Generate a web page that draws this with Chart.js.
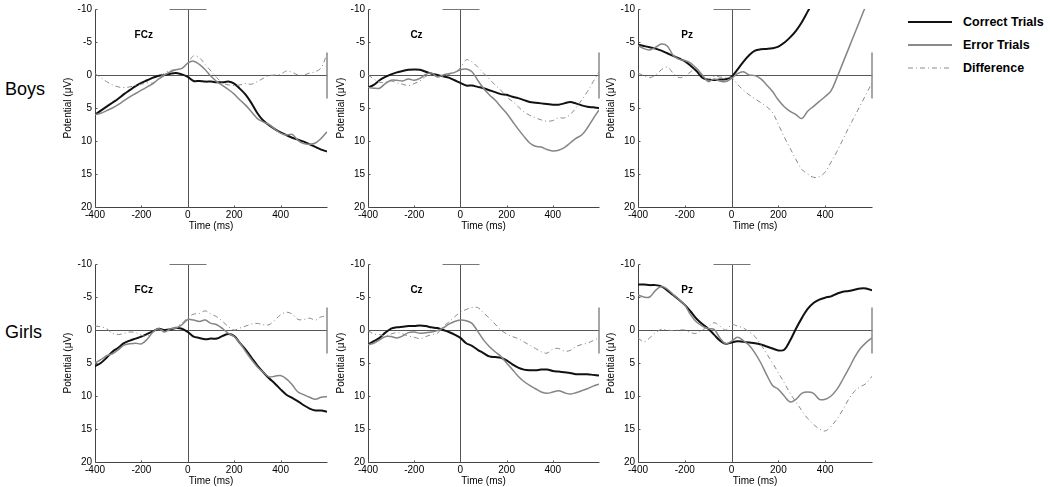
<!DOCTYPE html>
<html>
<head>
<meta charset="utf-8">
<script src="https://cdn.jsdelivr.net/npm/chart.js@4.4.1/dist/chart.umd.min.js"></script>
<style>
  body { margin: 0; background: #fff; width: 1050px; height: 487px; overflow: hidden; position: relative; font-family: "Liberation Sans", Arial, sans-serif; }
  canvas { position: absolute; }
  .row-label { position: absolute; font-size: 18px; color: #000; }
  .legend { position: absolute; left: 905px; top: 10px; }
  .legend div { height: 23px; display: flex; align-items: center; font-weight: bold; font-size: 12.5px; }
  .legend svg { margin-right: 10px; }
</style>
</head>
<body>
<div class="row-label" style="left:5px; top:79px;">Boys</div>
<div class="row-label" style="left:5px; top:322px;">Girls</div>
<div class="legend">
  <div><svg width="48" height="4"><line x1="3" y1="2" x2="47" y2="2" stroke="#111" stroke-width="2"/></svg>Correct Trials</div>
  <div><svg width="48" height="4"><line x1="3" y1="2" x2="47" y2="2" stroke="#8a8a8a" stroke-width="2"/></svg>Error Trials</div>
  <div><svg width="48" height="4"><line x1="3" y1="2" x2="47" y2="2" stroke="#8a8a8a" stroke-width="1" stroke-dasharray="5,3,1,3"/></svg>Difference</div>
</div>

<script>
// sample times (ms)
const times = [-400, -375, -350, -325, -300, -275, -250, -225, -200, -175, -150, -125, -100, -75, -50, -25,
  0, 25, 50, 75, 100, 125, 150, 175, 200, 225, 250, 275, 300, 325, 350, 375, 400, 425, 450, 475, 500, 525, 550, 575, 600];

const xTicks = [-400, -200, 0, 200, 400];
const yTicks = [-10, -5, 0, 5, 10, 15, 20];
const refBar = [-80, 80];      // short bar at top of time zero
const calibBar = [-3.5, 3.5];  // calibration segment at right edge

// Boys
const boysFCzCorrect = [6.0, 5.4, 4.8, 4.2, 3.6, 2.9, 2.3, 1.7, 1.2, 0.8, 0.4, 0.1, 0.0, -0.2, -0.3, -0.1,
  0.3, 0.9, 0.9, 1.0, 1.0, 1.1, 1.1, 1.0, 1.3, 2.1, 3.0, 4.3, 5.8, 6.9, 7.6, 8.2, 8.7, 9.1, 9.5, 9.8, 10.1, 10.5, 10.9, 11.3, 11.6];
const boysFCzError = [6.0, 5.8, 5.4, 5.0, 4.5, 3.9, 3.3, 2.8, 2.3, 1.8, 1.3, 0.6, 0.0, -0.5, -0.8, -1.0,
  -1.8, -2.1, -1.6, -0.8, 0.2, 1.0, 1.6, 2.2, 2.9, 3.8, 4.6, 5.6, 6.6, 7.1, 7.5, 8.2, 8.8, 9.1, 9.0, 9.9, 10.4, 10.5, 10.3, 9.6, 8.6];
const boysFCzDiff = [-0.2, 0.4, 1.0, 1.5, 1.8, 1.9, 1.8, 1.6, 1.4, 1.2, 1.2, 0.5, -0.3, -0.7, -0.8, -1.0,
  -1.8, -2.9, -2.6, -1.6, -0.6, 0.4, 1.2, 1.5, 1.6, 1.5, 1.3, 1.4, 1.0, 0.5, 0.1, 0.0, -0.1, -0.6, -0.4, 0.0, 0.0, -0.3, -0.5, -1.1, -3.2];

const boysCzCorrect = [1.9, 1.5, 0.8, 0.3, -0.1, -0.4, -0.6, -0.8, -0.85, -0.8, -0.5, -0.2, 0.0, 0.2, 0.4, 0.8,
  1.2, 1.6, 1.6, 1.8, 2.0, 2.3, 2.6, 2.9, 3.0, 3.3, 3.5, 3.8, 4.1, 4.2, 4.3, 4.4, 4.5, 4.5, 4.3, 4.1, 4.3, 4.6, 4.8, 4.9, 5.0];
const boysCzError = [1.9, 2.0, 2.0, 1.3, 0.8, 0.8, 0.9, 0.6, 0.8, 0.5, -0.1, -0.3, 0.3, 0.0, -0.2, -0.4,
  -0.8, -0.9, -0.5, 0.8, 2.0, 3.0, 3.8, 4.8, 5.8, 7.0, 8.2, 9.3, 10.3, 10.8, 10.9, 11.3, 11.5, 11.4, 11.0, 10.3, 9.6, 9.1, 8.0, 6.6, 5.3];
const boysCzDiff = [0.0, 0.6, 1.1, 1.1, 0.9, 1.2, 1.4, 1.6, 1.3, 0.9, 0.2, 0.0, 0.2, 0.2, -0.1, -0.4,
  -1.1, -2.3, -2.0, -1.2, -0.3, 0.6, 1.5, 2.3, 3.3, 4.0, 4.8, 5.6, 6.1, 6.5, 6.8, 7.0, 6.9, 6.5, 6.5, 6.0, 5.0, 3.8, 2.5, 1.0, -0.5];

const boysPzCorrect = [-4.6, -4.4, -4.2, -4.0, -3.7, -3.3, -2.9, -2.5, -2.1, -1.4, -0.6, 0.4, 0.7, 0.75, 0.7, 0.65,
  0.25, -0.8, -2.0, -3.0, -3.7, -3.9, -3.95, -4.05, -4.3, -4.9, -5.7, -6.7, -8.0, -9.6, -11.2, null, null, null, null, null, null, null, null, null, null];
const boysPzError = [-4.5, -4.0, -3.8, -4.2, -4.7, -4.4, -3.0, -2.4, -2.2, -1.8, -1.0, 0.0, 1.0, 0.6, 0.9, 1.0,
  0.5, -0.2, -0.5, 0.0, 0.1, 0.6, 1.5, 2.5, 3.8, 4.8, 5.5, 6.0, 6.6, 5.5, 4.75, 4.0, 3.25, 2.4, 0.4, -1.8, -4.0, -6.2, -8.4, -10.6, -12.5];
const boysPzDiff = [-0.3, 0.1, 0.4, 0.0, -0.8, -1.2, -0.3, 0.4, 0.2, -0.5, -1.0, 0.2, 0.6, 0.2, 0.3, 0.4,
  0.4, 1.4, 2.3, 3.0, 3.6, 4.2, 4.8, 5.7, 7.5, 9.4, 11.1, 12.8, 14.3, 15.0, 15.5, 15.4, 14.7, 13.2, 11.6, 9.8, 8.0, 6.3, 4.6, 2.9, 1.2];

// Girls
const girlsFCzCorrect = [5.5, 5.0, 4.2, 3.3, 2.7, 2.0, 1.6, 1.3, 1.0, 0.6, 0.2, -0.2, 0.0, -0.1, -0.3, -0.2,
  0.3, 1.0, 1.2, 1.4, 1.3, 1.3, 0.9, 0.6, 0.9, 2.0, 3.0, 4.2, 5.4, 6.4, 7.3, 8.1, 9.0, 9.8, 10.3, 10.8, 11.4, 11.9, 12.2, 12.2, 12.4];
const girlsFCzError = [5.0, 4.5, 3.9, 3.6, 3.0, 2.3, 2.1, 2.0, 2.1, 1.4, 0.3, -0.2, 0.3, -0.2, -0.3, -0.8,
  -1.6, -1.5, -1.3, -1.5, -1.0, -0.8, -0.2, 0.5, 1.0, 2.0, 3.3, 4.5, 5.6, 6.4, 7.1, 7.0, 6.9, 7.4, 8.3, 9.4, 9.8, 10.2, 10.5, 10.2, 10.1];
const girlsFCzDiff = [-0.6, -0.5, -0.2, 0.5, 0.7, 0.5, 0.3, 0.4, 0.8, 0.9, 0.3, -0.3, 0.2, 0.0, -0.5, -1.0,
  -1.9, -2.4, -2.5, -2.9, -2.4, -2.0, -1.3, -0.5, 0.0, -0.3, -0.6, -0.9, -1.0, -0.8, -0.8, -1.5, -2.3, -2.7, -2.4, -1.6, -1.6, -1.8, -1.5, -2.0, -2.0];

const girlsCzCorrect = [2.2, 1.7, 1.2, 0.4, -0.2, -0.4, -0.5, -0.6, -0.6, -0.7, -0.6, -0.4, -0.3, 0.0, 0.3, 0.7,
  1.2, 2.0, 2.4, 3.0, 3.5, 4.0, 4.1, 4.2, 4.6, 5.2, 5.7, 6.0, 6.1, 6.1, 6.0, 6.0, 6.2, 6.3, 6.4, 6.5, 6.7, 6.7, 6.7, 6.8, 6.9];
const girlsCzError = [2.2, 2.0, 1.5, 1.0, 1.0, 1.2, 0.9, 0.4, 0.3, 0.5, 0.4, 0.3, 0.1, -0.3, -0.9, -1.3,
  -1.5, -1.4, -1.0, 0.2, 1.5, 2.5, 3.3, 4.0, 5.0, 6.0, 7.0, 7.8, 8.4, 8.9, 9.4, 9.6, 9.4, 9.2, 9.5, 9.7, 9.5, 9.2, 8.9, 8.5, 8.2];
const girlsCzDiff = [0.1, 0.6, 0.7, 0.9, 0.6, 0.4, 0.6, 0.9, 1.1, 1.3, 1.0, 0.7, 0.5, -0.5, -1.2, -2.0,
  -2.7, -3.1, -3.4, -3.4, -2.6, -1.8, -0.9, 0.0, 0.6, 1.0, 1.3, 1.8, 2.3, 2.8, 3.3, 3.5, 2.9, 2.8, 3.2, 3.1, 2.5, 2.2, 2.0, 1.6, 1.2];

const girlsPzCorrect = [-6.9, -6.9, -6.8, -6.8, -6.6, -6.0, -5.3, -4.6, -3.8, -2.8, -1.7, -0.9, -0.2, 0.7, 1.6, 2.1,
  1.9, 1.7, 1.8, 1.9, 2.0, 2.2, 2.5, 2.8, 3.1, 3.0, 1.6, -0.2, -1.8, -3.2, -4.1, -4.6, -4.9, -5.1, -5.5, -5.8, -5.9, -6.1, -6.3, -6.3, -6.0];
const girlsPzError = [-5.3, -5.0, -5.0, -6.0, -6.6, -6.2, -5.4, -4.6, -3.8, -2.3, -1.2, -0.6, -0.2, -0.1, 1.2, 2.1,
  1.7, 1.1, 1.6, 2.3, 3.5, 5.0, 6.8, 8.4, 9.0, 10.0, 10.9, 10.5, 9.6, 9.4, 9.6, 10.5, 10.5, 10.0, 9.0, 7.5, 5.9, 4.2, 2.8, 1.9, 1.2];
const girlsPzDiff = [1.2, 1.8, 1.2, 0.4, -0.1, 0.0, 0.1, 0.0, 0.0, 0.4, 0.5, 0.0, -0.5, -1.1, -0.6, 0.0,
  -0.8, -0.6, -0.3, 0.3, 1.0, 2.2, 3.6, 5.0, 6.5, 8.0, 9.6, 10.9, 12.2, 13.4, 14.3, 15.0, 15.3, 14.6, 13.5, 12.1, 10.5, 9.3, 8.6, 8.1, 7.0];

const panels = [
  { row: 0, col: 0, name: 'FCz', correct: boysFCzCorrect, error: boysFCzError, diff: boysFCzDiff },
  { row: 0, col: 1, name: 'Cz', correct: boysCzCorrect, error: boysCzError, diff: boysCzDiff },
  { row: 0, col: 2, name: 'Pz', correct: boysPzCorrect, error: boysPzError, diff: boysPzDiff },
  { row: 1, col: 0, name: 'FCz', correct: girlsFCzCorrect, error: girlsFCzError, diff: girlsFCzDiff },
  { row: 1, col: 1, name: 'Cz', correct: girlsCzCorrect, error: girlsCzError, diff: girlsCzDiff },
  { row: 1, col: 2, name: 'Pz', correct: girlsPzCorrect, error: girlsPzError, diff: girlsPzDiff }
];

// layout (px)
const plotLefts = [95, 368, 638];
const plotWidths = [232, 231, 234];
const plotTops = [7, 262];
const plotHeight = 200;
const yAxisW = 40, xAxisH = 28, padTop = 7, padRight = 6;

const toPoints = vals => vals.map((v, i) => ({ x: times[i], y: v }));

// 坐标轴、零线、顶部短横、右侧定标线、内向刻度、电极名
const erpFrame = {
  id: 'erpFrame',
  beforeDatasetsDraw(chart, args, opts) {
    const { ctx, scales: { x, y } } = chart;
    const px = v => Math.round(x.getPixelForValue(v)) + 0.5;
    const py = v => Math.round(y.getPixelForValue(v)) + 0.5;
    const seg = (x1, y1, x2, y2) => { ctx.beginPath(); ctx.moveTo(x1, y1); ctx.lineTo(x2, y2); ctx.stroke(); };
    ctx.save();
    ctx.lineWidth = 1;
    // axes
    ctx.strokeStyle = '#444';
    seg(px(x.min), py(y.min), px(x.min), py(y.max));
    seg(px(x.min), py(y.max), px(x.max), py(y.max));
    // zero lines
    ctx.strokeStyle = '#555';
    seg(px(x.min), py(0), px(x.max), py(0));
    seg(px(0), py(y.min), px(0), py(y.max));
    ctx.strokeStyle = '#777';
    seg(px(refBar[0]), py(y.min), px(refBar[1]), py(y.min));
    ctx.strokeStyle = '#888';
    ctx.lineWidth = 1.5;
    seg(x.getPixelForValue(x.max), py(calibBar[0]), x.getPixelForValue(x.max), py(calibBar[1]));
    ctx.lineWidth = 1;
    ctx.strokeStyle = '#555';
    xTicks.forEach(t => seg(px(t), py(y.max), px(t), py(y.max) - 2));
    yTicks.forEach(t => seg(px(x.min), py(t), px(x.min) + 2, py(t)));
    ctx.restore();
  },
  afterDatasetsDraw(chart, args, opts) {
    const { ctx, scales: { x, y } } = chart;
    ctx.save();
    ctx.font = 'bold 10px "Liberation Sans", Arial, sans-serif';
    ctx.fillStyle = '#000';
    ctx.textAlign = 'center';
    ctx.textBaseline = 'middle';
    ctx.fillText(opts.text, x.getPixelForValue(-190), y.getPixelForValue(-6));
    ctx.restore();
  }
};

panels.forEach(p => {
  const canvas = document.createElement('canvas');
  const w = yAxisW + plotWidths[p.col] + padRight;
  const h = padTop + plotHeight + xAxisH;
  canvas.width = w;
  canvas.height = h;
  canvas.style.left = (plotLefts[p.col] - yAxisW) + 'px';
  canvas.style.top = (plotTops[p.row] - padTop) + 'px';
  document.body.appendChild(canvas);

  new Chart(canvas, {
    type: 'line',
    data: {
      datasets: [
        { label: 'Difference', data: toPoints(p.diff), borderColor: '#8a8a8a', borderWidth: 1, borderDash: [5, 3, 1, 3] },
        { label: 'Error Trials', data: toPoints(p.error), borderColor: '#858585', borderWidth: 1.5 },
        { label: 'Correct Trials', data: toPoints(p.correct), borderColor: '#111', borderWidth: 2 }
      ]
    },
    options: {
      responsive: false,
      animation: false,
      devicePixelRatio: 1,
      layout: { padding: { top: padTop, right: padRight, left: 0, bottom: 0 } },
      elements: { point: { radius: 0 }, line: { tension: 0.35, fill: false } },
      plugins: {
        legend: { display: false },
        tooltip: { enabled: false },
        erpFrame: { text: p.name }
      },
      scales: {
        x: {
          type: 'linear',
          min: -400,
          max: 600,
          afterFit: s => { s.height = xAxisH; },
          afterBuildTicks: s => { s.ticks = xTicks.map(v => ({ value: v })); },
          grid: { display: false, drawTicks: false },
          border: { display: false },
          ticks: { autoSkip: false, maxRotation: 0, padding: 2, color: '#000', font: { family: '"Liberation Sans", Arial', size: 10 } },
          title: { display: true, text: 'Time (ms)', color: '#000', padding: { top: 0, bottom: 3 }, font: { family: '"Liberation Sans", Arial', size: 10 } }
        },
        y: {
          reverse: true,
          min: -10,
          max: 20,
          afterFit: s => { s.width = yAxisW; },
          afterBuildTicks: s => { s.ticks = yTicks.map(v => ({ value: v })); },
          grid: { display: false, drawTicks: false },
          border: { display: false },
          ticks: { padding: 3, color: '#000', font: { family: '"Liberation Sans", Arial', size: 10 } },
          title: { display: true, text: 'Potential (μV)', color: '#000', padding: { top: 7, bottom: 0 }, font: { family: '"Liberation Sans", Arial', size: 10 } }
        }
      }
    },
    plugins: [erpFrame]
  });
});
</script>
</body>
</html>
